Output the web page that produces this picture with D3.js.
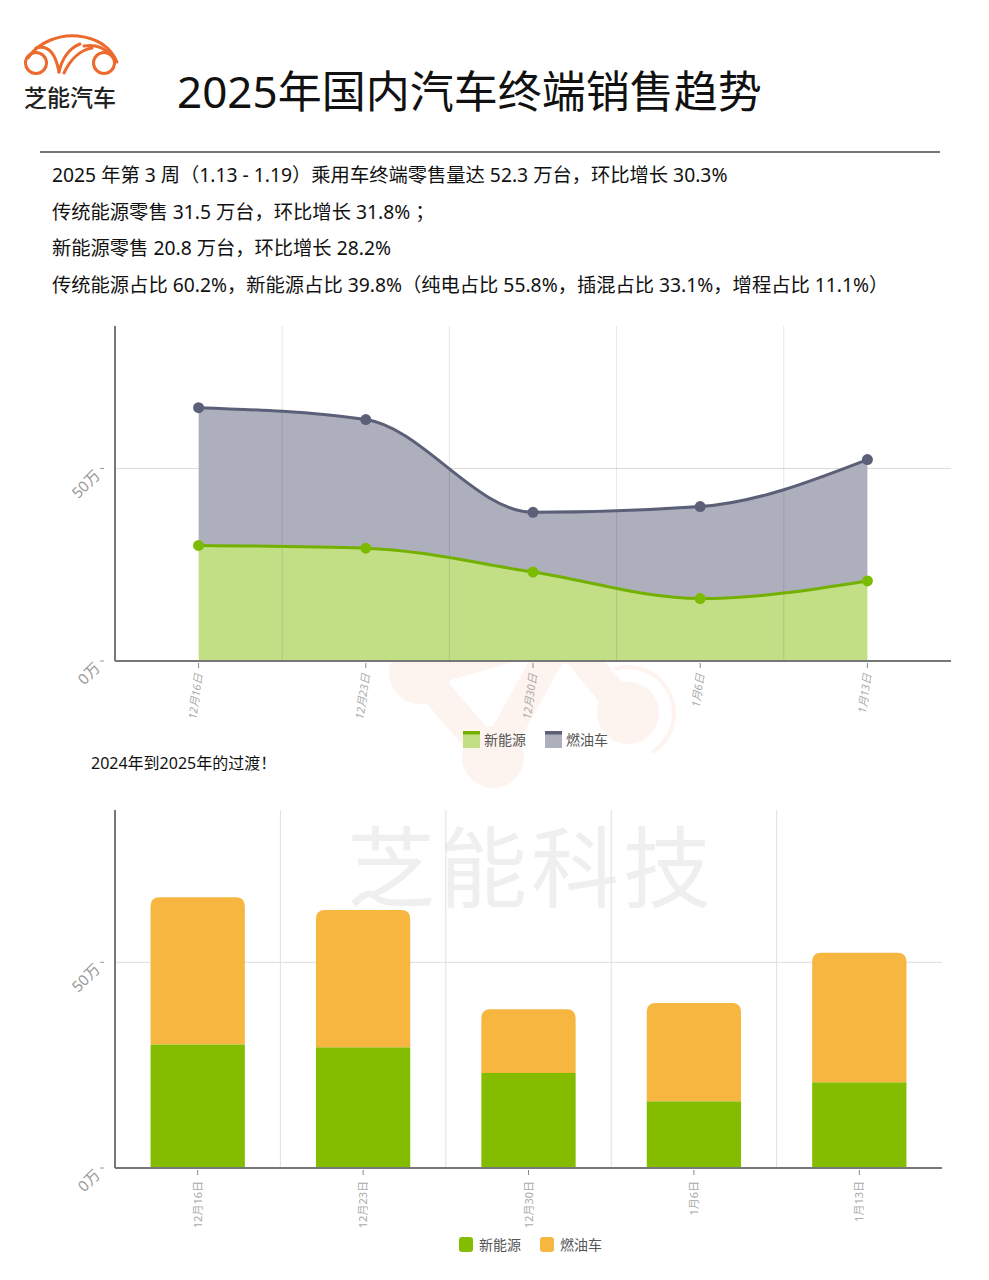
<!DOCTYPE html>
<html><head><meta charset="utf-8">
<script src="https://cdn.jsdelivr.net/npm/d3@7/dist/d3.min.js"></script>
<style>
body{margin:0;background:#fff;}
svg{display:block;font-family:"Noto Sans","Noto Sans CJK SC",sans-serif;}
</style></head><body>
<svg id="c" width="989" height="1280"></svg>
<script>
// ---- data ----
const categories = ["12月16日","12月23日","12月30日","1月6日","1月13日"];
const nevValues = [30.0, 29.3, 23.1, 16.2, 20.8];   // 新能源 (万台)
const iceValues = [35.8, 33.4, 15.5, 23.9, 31.5];   // 燃油车 (万台)
const seriesNames = ["新能源","燃油车"];
const yTicks = [0, 50];
const yTickLabels = ["0万","50万"];
const yMax = 87;
const titleText = "2025年国内汽车终端销售趋势";
const infoLines = [
  "2025 年第 3 周（1.13 - 1.19）乘用车终端零售量达 52.3 万台，环比增长 30.3%",
  "传统能源零售 31.5 万台，环比增长 31.8% ；",
  "新能源零售 20.8 万台，环比增长 28.2%",
  "传统能源占比 60.2%，新能源占比 39.8%（纯电占比 55.8%，插混占比 33.1%，增程占比 11.1%）"
];
const subTitle = "2024年到2025年的过渡！";

const svg = d3.select("#c");
const orange = "#ec6a2c";

// ---- logo ----
const logo = svg.append("g").attr("fill","none").attr("stroke",orange).attr("stroke-width",3).attr("stroke-linecap","round");
logo.append("path").attr("d","M28,58 C38,42 60,34 78,36 C96,38 110,46 117,62");
logo.append("circle").attr("cx",36).attr("cy",63).attr("r",10.5);
logo.append("circle").attr("cx",104).attr("cy",63).attr("r",10.5);
logo.append("path").attr("d","M36,48 C50,44 56,56 59,72");
logo.append("path").attr("d","M59,72 C62,58 70,48 80,44");
logo.append("path").attr("d","M64,73 C70,60 80,50 92,48");
logo.append("path").attr("d","M84,46 C96,44 104,48 110,54");
svg.append("text").attr("x",24).attr("y",106).attr("font-size",23).attr("font-weight",500).attr("font-family","Noto Sans CJK SC").attr("fill","#222").text("芝能汽车");

// ---- title ----
svg.append("text").attr("x",177).attr("y",108).attr("font-size",44).attr("fill","#111").text(titleText);
svg.append("line").attr("x1",40).attr("x2",940).attr("y1",152).attr("y2",152).attr("stroke","#444").attr("stroke-width",1.5);
infoLines.forEach((t,i)=>{
  svg.append("text").attr("x",52).attr("y",182+i*36.7).attr("font-size",19.3).attr("fill","#111").text(t);
});

// ---- watermarks ----
const wm = svg.append("g").attr("opacity",0.07);
wm.append("path").attr("d","M420,673 L562,633 L628,713 M562,633 L493,757 M420,673 L493,757").attr("stroke",orange).attr("stroke-width",30).attr("fill","none").attr("stroke-linecap","round");
[[420,673],[562,633],[628,713],[493,757]].forEach(p=>wm.append("circle").attr("cx",p[0]).attr("cy",p[1]).attr("r",31).attr("fill",orange));
wm.append("path").attr("d",d3.arc()({innerRadius:44,outerRadius:48,startAngle:-0.3,endAngle:2.6})).attr("transform","translate(628,713)").attr("fill",orange);
svg.append("text").attr("x",531).attr("y",900).attr("text-anchor","middle").attr("font-size",88).attr("letter-spacing",4)
  .attr("font-family","Noto Sans CJK SC").attr("font-weight",400).attr("fill","#efefef").text("芝能科技");

// ---- chart 1 : stacked area ----
const c1 = {left:115,right:951,top:326,bottom:661};
const x1 = d3.scaleBand().domain(categories).range([c1.left,c1.right]);
const y1 = d3.scaleLinear().domain([0,yMax]).range([c1.bottom,c1.top]);
const totals = nevValues.map((v,i)=>v+iceValues[i]);
const cx1 = d=>x1(d)+x1.bandwidth()/2;
const pts = categories.map((c,i)=>({c,nev:nevValues[i],tot:totals[i]}));
const curve = d3.curveMonotoneX;

svg.append("g").selectAll("line").data(yTicks.filter(t=>t>0)).join("line")
  .attr("x1",c1.left).attr("x2",c1.right).attr("y1",d=>y1(d)).attr("y2",d=>y1(d)).attr("stroke","#dcdcdc");

svg.append("path").datum(pts).attr("fill","#adafbd")
  .attr("d",d3.area().curve(curve).x(d=>cx1(d.c)).y0(d=>y1(d.nev)).y1(d=>y1(d.tot)));
svg.append("path").datum(pts).attr("fill","#c2df85")
  .attr("d",d3.area().curve(curve).x(d=>cx1(d.c)).y0(y1(0)).y1(d=>y1(d.nev)));
svg.append("g").selectAll("line").data(categories.slice(1)).join("line")
  .attr("x1",d=>x1(d)).attr("x2",d=>x1(d)).attr("y1",c1.top).attr("y2",c1.bottom).attr("stroke","rgba(0,0,0,0.10)");
svg.append("path").datum(pts).attr("fill","none").attr("stroke","#5b6078").attr("stroke-width",3)
  .attr("d",d3.line().curve(curve).x(d=>cx1(d.c)).y(d=>y1(d.tot)));
svg.append("path").datum(pts).attr("fill","none").attr("stroke","#74b000").attr("stroke-width",3)
  .attr("d",d3.line().curve(curve).x(d=>cx1(d.c)).y(d=>y1(d.nev)));
svg.append("g").selectAll("circle").data(pts).join("circle").attr("cx",d=>cx1(d.c)).attr("cy",d=>y1(d.tot)).attr("r",5.5).attr("fill","#5b6078");
svg.append("g").selectAll("circle").data(pts).join("circle").attr("cx",d=>cx1(d.c)).attr("cy",d=>y1(d.nev)).attr("r",5.5).attr("fill","#7cbc00");

function drawAxes(x, y, box, italic, cx){
  svg.append("line").attr("x1",box.left).attr("x2",box.left).attr("y1",box.top).attr("y2",box.bottom).attr("stroke","#777").attr("stroke-width",2);
  svg.append("line").attr("x1",box.left).attr("x2",box.right).attr("y1",box.bottom).attr("y2",box.bottom).attr("stroke","#777").attr("stroke-width",2);
  yTicks.forEach((t,i)=>{
    svg.append("line").attr("x1",100).attr("x2",104).attr("y1",y(t)).attr("y2",y(t)).attr("stroke","#999");
    svg.append("text").attr("text-anchor","end").attr("font-size",15).attr("fill","#999")
      .attr("transform",`translate(101,${y(t)+8}) rotate(-45)`).text(yTickLabels[i]);
  });
  categories.forEach(c=>{
    svg.append("line").attr("x1",cx(c)).attr("x2",cx(c)).attr("y1",box.bottom+2).attr("y2",box.bottom+7).attr("stroke","#888");
    svg.append("text").attr("text-anchor","end").attr("font-size",11).attr("fill","#aaa")
      .attr("font-style",italic?"italic":"normal")
      .attr("transform",`translate(${cx(c)+4},${box.bottom+13}) rotate(${italic?-82:-90})`).text(c);
  });
}
drawAxes(x1,y1,c1,true,cx1);

// legend 1
const lg1 = [{x:463,fill:"#c2df85",line:"#74b000"},{x:545,fill:"#adafbd",line:"#5b6078"}];
lg1.forEach((l,i)=>{
  svg.append("rect").attr("x",l.x).attr("y",731).attr("width",17).attr("height",17).attr("fill",l.fill);
  svg.append("rect").attr("x",l.x).attr("y",731).attr("width",17).attr("height",3.5).attr("fill",l.line);
  svg.append("text").attr("x",l.x+21).attr("y",745).attr("font-size",14).attr("fill","#555").text(seriesNames[i]);
});

svg.append("text").attr("x",91).attr("y",769).attr("font-size",16).attr("fill","#111").text(subTitle);

// ---- chart 2 : stacked bars ----
const c2 = {left:115,right:942,top:810,bottom:1168};
const xb2 = d3.scaleBand().domain(categories).range([c2.left,c2.right]);
const y2 = d3.scaleLinear().domain([0,yMax]).range([c2.bottom,c2.top]);
const cx2 = d=>xb2(d)+xb2.bandwidth()/2;
svg.append("g").selectAll("line").data(yTicks.filter(t=>t>0)).join("line")
  .attr("x1",c2.left).attr("x2",c2.right).attr("y1",d=>y2(d)).attr("y2",d=>y2(d)).attr("stroke","#dcdcdc");
svg.append("g").selectAll("line").data(categories.slice(1)).join("line")
  .attr("x1",d=>xb2(d)).attr("x2",d=>xb2(d)).attr("y1",c2.top).attr("y2",c2.bottom).attr("stroke","#e0e0e0");

const bw = xb2.bandwidth()*0.57;
const r = 9;
pts.forEach((d,i)=>{
  const xl = cx2(d.c)-bw/2, xr = xl+bw;
  const yt = y2(d.tot), yn = y2(d.nev), yb = y2(0);
  svg.append("path").attr("fill","#f6b63f")
    .attr("d",`M${xl},${yn} L${xl},${yt+r} Q${xl},${yt} ${xl+r},${yt} L${xr-r},${yt} Q${xr},${yt} ${xr},${yt+r} L${xr},${yn} Z`);
  svg.append("rect").attr("x",xl).attr("y",yn).attr("width",bw).attr("height",yb-yn).attr("fill","#84bc00");
});
drawAxes(xb2,y2,c2,false,cx2);

// legend 2
const lg2 = [{x:459,fill:"#84bc00"},{x:540,fill:"#f6b63f"}];
lg2.forEach((l,i)=>{
  svg.append("rect").attr("x",l.x).attr("y",1237).attr("width",14).attr("height",15).attr("rx",3).attr("fill",l.fill);
  svg.append("text").attr("x",l.x+20).attr("y",1250).attr("font-size",14).attr("fill","#555").text(seriesNames[i]);
});
</script></body></html>
